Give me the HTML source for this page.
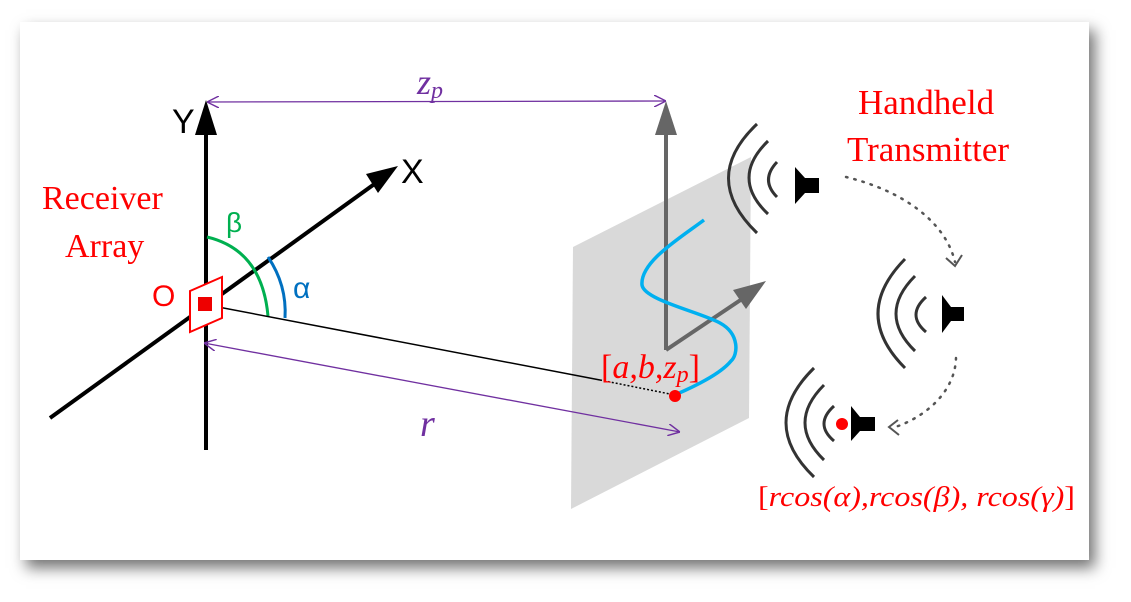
<!DOCTYPE html>
<html><head><meta charset="utf-8"><style>
html,body{margin:0;padding:0;background:#fff;width:1131px;height:602px;overflow:hidden}
#card{position:absolute;left:20px;top:22px;width:1069px;height:538px;background:#fff;box-shadow:6px 8px 14px rgba(0,0,0,0.55)}
svg{position:absolute;left:0;top:0}
</style></head><body>
<div id="card"></div>
<svg width="1131" height="602" viewBox="0 0 1131 602">
<defs>
<marker id="pur" viewBox="0 0 10 10" refX="10" refY="5" markerWidth="12" markerHeight="12" markerUnits="userSpaceOnUse" orient="auto-start-reverse"><path d="M0,0L10,5L0,10" fill="none" stroke="#7030a0" stroke-width="1.2"/></marker>
</defs>
<polygon points="573,247 751,157 749,418 571,509" fill="#d9d9d9"/>
<line x1="206" y1="450" x2="206" y2="134" stroke="#000" stroke-width="4"/>
<polygon points="206,100 195,135 217,135" fill="#000"/>
<line x1="50" y1="418" x2="380" y2="180" stroke="#000" stroke-width="4"/>
<polygon points="398,166 366,174 378,193" fill="#000"/>
<text style="font-family:'Liberation Sans',sans-serif" x="172" y="133" font-size="34">Y</text>
<text style="font-family:'Liberation Sans',sans-serif" x="401" y="183" font-size="34">X</text>
<path d="M207,237 Q262,250 268,316" fill="none" stroke="#00b050" stroke-width="3"/>
<path d="M268,257 Q287,285 285,318" fill="none" stroke="#0070c0" stroke-width="3"/>
<text style="font-family:'Liberation Sans',sans-serif" x="226" y="232" font-size="28" fill="#00b050">β</text>
<text style="font-family:'Liberation Sans',sans-serif" x="293" y="298" font-size="30" fill="#0070c0">α</text>
<line x1="213" y1="306" x2="600" y2="380" stroke="#000" stroke-width="1.5"/>
<line x1="600" y1="380" x2="675" y2="395" stroke="#000" stroke-width="1.5" stroke-dasharray="2,2"/>
<polygon points="190,291 222,277 222,318 190,332" fill="#fff" stroke="#f00" stroke-width="2"/>
<rect x="198" y="297" width="14" height="14" fill="#e00"/>
<text style="font-family:'Liberation Sans',sans-serif" x="152" y="306" font-size="30" fill="#f00">O</text>
<text style="font-family:'Liberation Serif',serif" x="42" y="209" font-size="34" fill="#f00">Receiver</text>
<text style="font-family:'Liberation Serif',serif" x="65" y="257" font-size="34" fill="#f00">Array</text>
<line x1="207" y1="102" x2="666" y2="101" stroke="#7030a0" stroke-width="1.3" marker-start="url(#pur)" marker-end="url(#pur)"/>
<text style="font-family:'Liberation Serif',serif;font-style:italic" x="417" y="94" font-size="36" fill="#7030a0">z<tspan font-size="24" dy="4">p</tspan></text>
<line x1="204" y1="343" x2="680" y2="432" stroke="#7030a0" stroke-width="1.3" marker-start="url(#pur)" marker-end="url(#pur)"/>
<text style="font-family:'Liberation Serif',serif;font-style:italic" x="420" y="436" font-size="38" fill="#7030a0">r</text>
<line x1="666" y1="350" x2="666" y2="132" stroke="#666" stroke-width="4"/>
<polygon points="666,101 655,135 677,135" fill="#666"/>
<line x1="666" y1="350" x2="745" y2="297" stroke="#666" stroke-width="4"/>
<polygon points="766,281 733,290 746,309" fill="#666"/>
<path d="M704,220 C680,238 640,262 642,285 C644,300 700,312 720,323 C740,334 738,355 731,361 C722,372 700,384 677,394" fill="none" stroke="#00b0f0" stroke-width="3.5"/>
<circle cx="675" cy="396" r="6" fill="#f00"/>
<text style="font-family:'Liberation Serif',serif" x="601" y="378" font-size="34" fill="#f00">[<tspan font-style="italic">a,b,z<tspan font-size="24" dy="4">p</tspan></tspan><tspan dy="-4">]</tspan></text>
<g fill="none" stroke="#333" stroke-width="3">
<path d="M757,124 Q700,178 757,233"/><path d="M768,141 Q730,178 768,214"/><path d="M777,162 Q760,180 777,197"/>
<polygon points="795,167 805,178 819,178 819,193 805,193 795,204" fill="#000" stroke="none"/>
</g>
<g fill="none" stroke="#333" stroke-width="3">
<path d="M905,259 Q851,314 905,368"/><path d="M915,276 Q877,314 915,351"/><path d="M926,297 Q906,315 926,332"/>
<polygon points="942,295 951,307 964,307 964,321 951,321 942,333" fill="#000" stroke="none"/>
</g>
<g fill="none" stroke="#333" stroke-width="3">
<path d="M814,368 Q758,423 814,477"/><path d="M824,385 Q786,423 824,460"/><path d="M834,406 Q814,424 834,441"/>
<polygon points="851,406 860,417 875,417 875,431 860,431 851,441" fill="#000" stroke="none"/>
</g>
<circle cx="842" cy="424" r="6" fill="#f00"/>
<path d="M846,177 C900,190 945,220 955,262" fill="none" stroke="#555" stroke-width="2.5" stroke-dasharray="1.5,7" stroke-linecap="round"/>
<path d="M946,258 L955,266 L962,255" fill="none" stroke="#555" stroke-width="2"/>
<path d="M956,358 C955,395 920,420 892,428" fill="none" stroke="#555" stroke-width="2.5" stroke-dasharray="1.5,7" stroke-linecap="round"/>
<path d="M898,420 L889,427 L899,435" fill="none" stroke="#555" stroke-width="2"/>
<text style="font-family:'Liberation Serif',serif" x="858" y="114" font-size="35" fill="#f00">Handheld</text>
<text style="font-family:'Liberation Serif',serif" x="847" y="161" font-size="35" fill="#f00">Transmitter</text>
<text style="font-family:'Liberation Serif',serif" x="758" y="506" font-size="28" fill="#f00" textLength="317" lengthAdjust="spacingAndGlyphs">[<tspan font-style="italic">rcos(α),rcos(β), rcos(γ)</tspan>]</text>
</svg>
</body></html>
